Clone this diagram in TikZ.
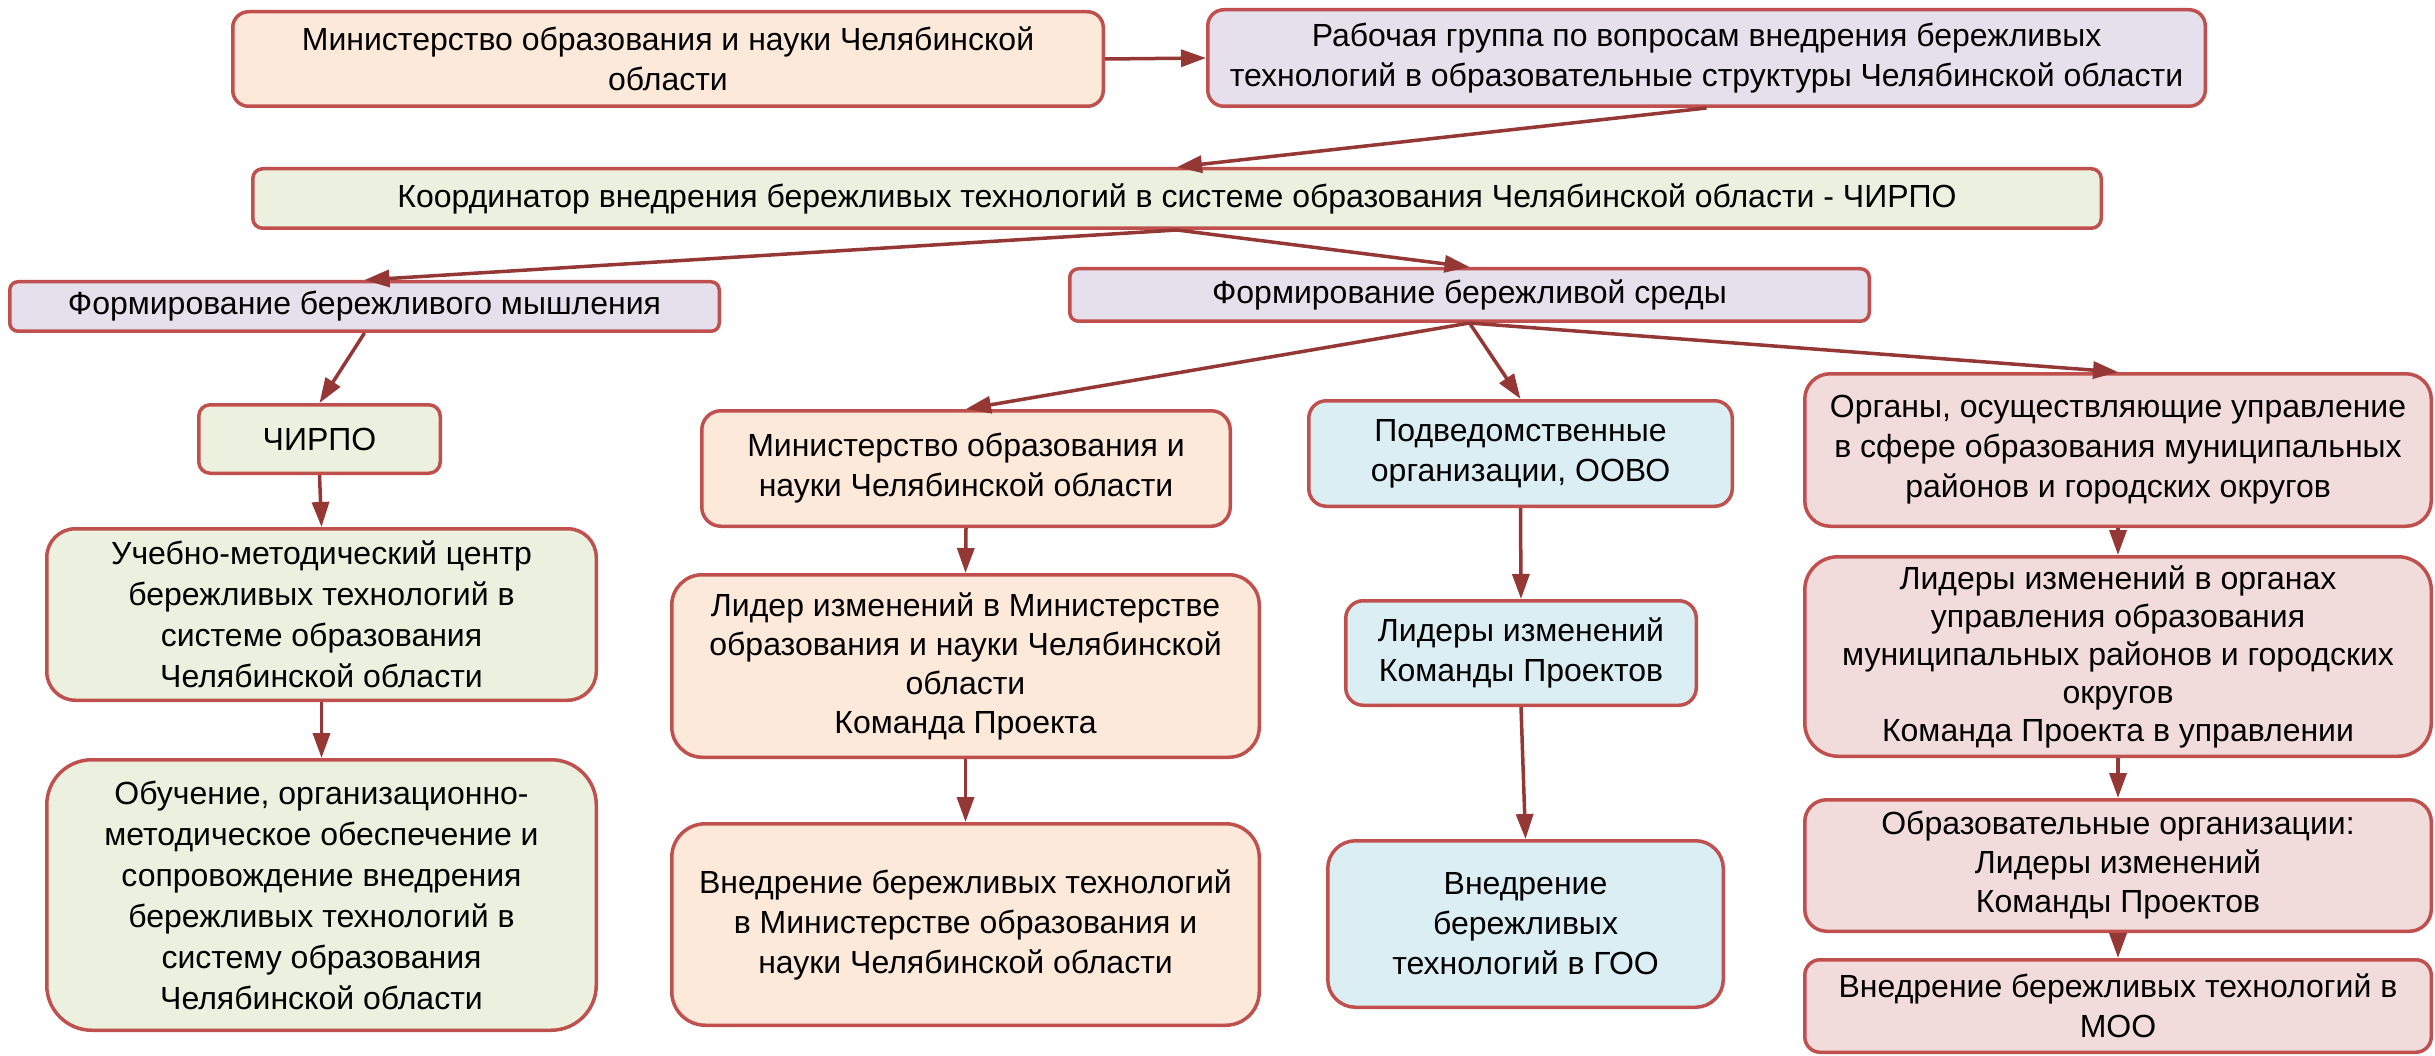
\documentclass[tikz,border=0pt]{standalone}
\usepackage{fontspec}
\setmainfont{Liberation Sans}
\usetikzlibrary{arrows.meta}
\definecolor{bord}{HTML}{C0504D}
\definecolor{arrc}{HTML}{953735}
\definecolor{cpeach}{HTML}{FDE9D9}
\definecolor{clav}{HTML}{E5E0EC}
\definecolor{cgreen}{HTML}{EBF1DE}
\definecolor{cblue}{HTML}{DBEEF4}
\definecolor{cpink}{HTML}{F2DCDB}
\tikzset{
  boxst/.style={draw=bord, line width=3.5pt, align=center, inner sep=0pt,
    font=\fontsize{32}{40}\selectfont, text=black},
  conn/.style={draw=arrc, line width=3.5pt, -{Triangle[length=25pt,width=17pt]}},
}
\newcommand\mybox[8]{%
  \pgfmathsetmacro\bxw{#4-#2-3.5}%
  \pgfmathsetmacro\bxh{#5-#3-3.5}%
  \pgfmathsetmacro\bxr{min(\bxw,\bxh)/6}%
  \node[boxst, fill=#6, minimum width=\bxw pt, minimum height=\bxh pt,
        rounded corners=\bxr pt, #7] (#1) at ({(#2+#4)/2},{(#3+#5)/2}) {#8};%
}
\begin{document}
\begin{tikzpicture}[x=1pt,y=-1pt]
\fill[white] (0,0) rectangle (2435,1056);
\useasboundingbox (0,0) rectangle (2435,1056);

\mybox{b1}{231}{10}{1105}{108}{cpeach}{}{Министерство образования и науки Челябинской\\области}
\mybox{b2}{1206}{8}{2207}{108}{clav}{}{Рабочая группа по вопросам внедрения бережливых\\технологий в образовательные структуры Челябинской области}
\mybox{b3}{251}{167}{2103}{230}{cgreen}{}{Координатор внедрения бережливых технологий в системе образования Челябинской области - ЧИРПО}
\mybox{b4}{8}{280}{721}{333}{clav}{}{Формирование бережливого мышления}
\mybox{b5}{1068}{267}{1871}{323}{clav}{}{Формирование бережливой среды}

\mybox{b6}{197}{403}{442}{475}{cgreen}{}{ЧИРПО}
\mybox{b7}{45}{527}{598}{702}{cgreen}{font=\fontsize{32}{41}\selectfont}{Учебно-методический центр\\бережливых технологий в\\системе образования\\Челябинской области}
\mybox{b8}{45}{758}{598}{1032}{cgreen}{font=\fontsize{32}{41}\selectfont}{Обучение, организационно-\\методическое обеспечение и\\сопровождение внедрения\\бережливых технологий в\\систему образования\\Челябинской области}

\mybox{b9}{700}{409}{1232}{528}{cpeach}{}{Министерство образования и\\науки Челябинской области}
\mybox{b10}{670}{573}{1261}{759}{cpeach}{font=\fontsize{32}{39}\selectfont}{Лидер изменений в Министерстве\\образования и науки Челябинской\\области\\Команда Проекта}
\mybox{b11}{670}{822}{1261}{1027}{cpeach}{}{Внедрение бережливых технологий\\в Министерстве образования и\\науки Челябинской области}

\mybox{b12}{1307}{399}{1734}{508}{cblue}{}{Подведомственные\\организации, ООВО}
\mybox{b13}{1344}{599}{1698}{707}{cblue}{}{Лидеры изменений\\Команды Проектов}
\mybox{b14}{1326}{839}{1725}{1009}{cblue}{}{Внедрение\\бережливых\\технологий в ГОО}

\mybox{b15}{1803}{372}{2433}{528}{cpink}{}{Органы, осуществляющие управление\\в сфере образования муниципальных\\районов и городских округов}
\mybox{b16}{1803}{555}{2433}{758}{cpink}{font=\fontsize{32}{38}\selectfont}{Лидеры изменений в органах\\управления образования\\муниципальных районов и городских\\округов\\Команда Проекта в управлении}
\mybox{b17}{1803}{798}{2433}{933}{cpink}{font=\fontsize{32}{39}\selectfont}{Образовательные организации:\\Лидеры изменений\\Команды Проектов}
\mybox{b18}{1803}{958}{2433}{1054}{cpink}{}{Внедрение бережливых технологий в\\МОО}

\draw[conn] (b1.east) -- (b2.west);
\draw[conn] (b2.south) -- (b3.north);
\draw[conn] (b3.south) -- (b4.north);
\draw[conn] (b3.south) -- (b5.north);
\draw[conn] (b4.south) -- (b6.north);
\draw[conn] (b6.south) -- (b7.north);
\draw[conn] (b7.south) -- (b8.north);
\draw[conn] (b5.south) -- (b9.north);
\draw[conn] (b5.south) -- (b12.north);
\draw[conn] (b5.south) -- (b15.north);
\draw[conn] (b9.south) -- (b10.north);
\draw[conn] (b10.south) -- (b11.north);
\draw[conn] (b12.south) -- (b13.north);
\draw[conn] (b13.south) -- (b14.north);
\draw[conn] (b15.south) -- (b16.north);
\draw[conn] (b16.south) -- (b17.north);
\draw[conn] (b17.south) -- (b18.north);
\end{tikzpicture}
\end{document}
